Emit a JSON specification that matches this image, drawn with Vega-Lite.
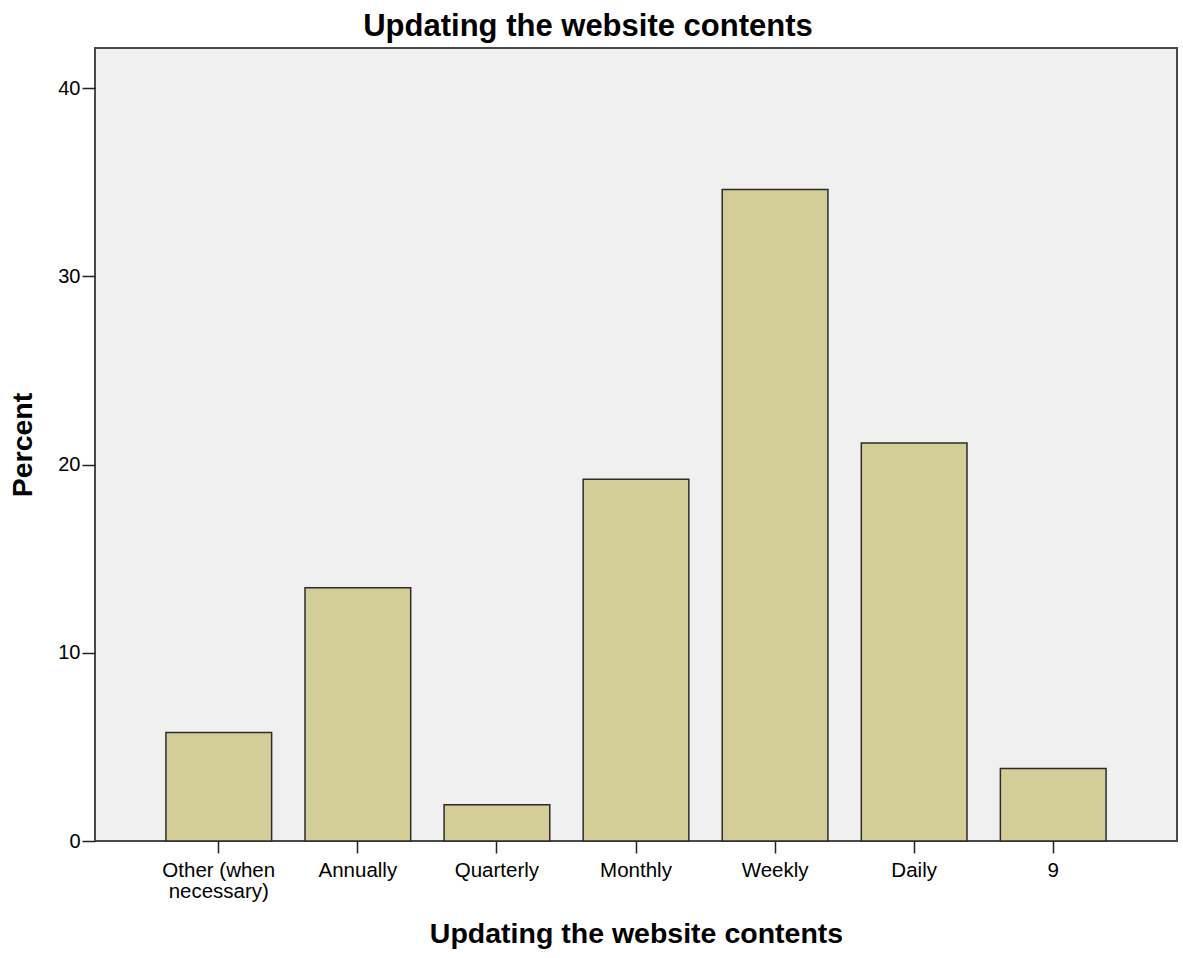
{
  "$schema": "https://vega.github.io/schema/vega-lite/v6.json",
  "autosize": "none",
  "width": 1082,
  "height": 793,
  "padding": {"left": 95, "top": 48, "right": 6, "bottom": 117},
  "background": "white",
  "title": {
    "text": "Updating the website contents",
    "font": "Liberation Sans",
    "fontSize": 31,
    "fontWeight": "bold",
    "color": "black",
    "anchor": "middle",
    "baseline": "bottom",
    "offset": 8,
    "dx": -48,
    "dy": 34
  },
  "data": {
    "values": [
      {"category": "Other (when necessary)", "percent": 5.77},
      {"category": "Annually", "percent": 13.46},
      {"category": "Quarterly", "percent": 1.92},
      {"category": "Monthly", "percent": 19.23},
      {"category": "Weekly", "percent": 34.62},
      {"category": "Daily", "percent": 21.15},
      {"category": "9", "percent": 3.85}
    ]
  },
  "mark": {"type": "bar", "fill": "#D3CD98", "stroke": "#2b2b2b", "strokeWidth": 1.5},
  "encoding": {
    "x": {
      "field": "category",
      "type": "nominal",
      "sort": null,
      "scale": {"paddingInner": 0.24, "paddingOuter": 0.51},
      "axis": {
        "title": "Updating the website contents",
        "titleFont": "Liberation Sans",
        "titleFontSize": 28.5,
        "titleFontWeight": "bold",
        "titleColor": "black",
        "titlePadding": 18,
        "labelAngle": 0,
        "labelFont": "Liberation Sans",
        "labelFontSize": 20.5,
        "labelColor": "black",
        "labelPadding": 7,
        "labelLineHeight": 21,
        "labelExpr": "datum.label == 'Other (when necessary)' ? ['Other (when', 'necessary)'] : datum.label",
        "domain": false,
        "ticks": true,
        "tickSize": 12,
        "tickWidth": 1.5,
        "tickColor": "#222222",
        "grid": false
      }
    },
    "y": {
      "field": "percent",
      "type": "quantitative",
      "scale": {"domain": [0, 42.14], "nice": false, "zero": true},
      "axis": {
        "title": "Percent",
        "titleFont": "Liberation Sans",
        "titleFontSize": 28.5,
        "titleFontWeight": "bold",
        "titleColor": "black",
        "titlePadding": 20,
        "values": [0, 10, 20, 30, 40],
        "labelFont": "Liberation Sans",
        "labelFontSize": 20,
        "labelColor": "black",
        "labelPadding": 2,
        "domain": false,
        "tickSize": 13,
        "tickWidth": 1.5,
        "tickColor": "#222222",
        "grid": false
      }
    }
  },
  "config": {
    "view": {"fill": "#F0F0F0", "stroke": "#4a4a4a", "strokeWidth": 2}
  }
}
